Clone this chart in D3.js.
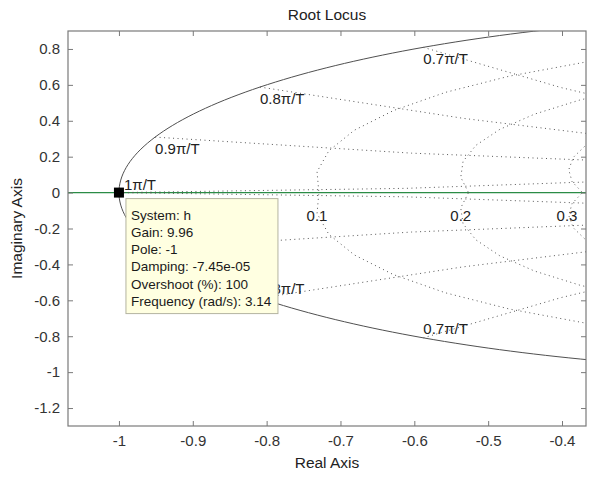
<!DOCTYPE html>
<html><head><meta charset="utf-8">
<script src="https://cdn.jsdelivr.net/npm/d3@7"></script>
<style>body{margin:0;background:#fff}svg{display:block;font-family:Arial,"Liberation Sans",sans-serif}</style>
</head><body><svg id="c" width="596" height="480"></svg>
<script>
// ---- data ----
const chartTitle = "Root Locus";
const xLabel = "Real Axis";
const yLabel = "Imaginary Axis";
const xTicks = [-1, -0.9, -0.8, -0.7, -0.6, -0.5, -0.4];
const yTicks = [-1.2, -1, -0.8, -0.6, -0.4, -0.2, 0, 0.2, 0.4, 0.6, 0.8];
const xLimits = [-1.069, -0.3675];
const yLimits = [-1.3, 0.9];
// zgrid: damping ratios and natural frequencies (in units of pi/T)
const dampingRatios = [0.1, 0.2, 0.3, 0.4, 0.5, 0.6, 0.7, 0.8, 0.9];
const naturalFreqs = [0.1, 0.2, 0.3, 0.4, 0.5, 0.6, 0.7, 0.8, 0.9, 1.0];
const naturalFreqLabels = ["0.1\u03C0/T","0.2\u03C0/T","0.3\u03C0/T","0.4\u03C0/T","0.5\u03C0/T","0.6\u03C0/T","0.7\u03C0/T","0.8\u03C0/T","0.9\u03C0/T","1\u03C0/T"];
const dampingLabels = ["0.1","0.2","0.3","0.4","0.5","0.6","0.7","0.8","0.9"];
// root locus: unit-circle branch and real-axis branch
const locusCircleRadius = 1;
const selectedPole = {re: -1, im: 0};
const datatipLines = ["System: h", "Gain: 9.96", "Pole: -1", "Damping: -7.45e-05", "Overshoot (%): 100", "Frequency (rad/s): 3.14"];

// ---- layout ----
const svg = d3.select("#c");
const L = 68, T = 31, R = 586, B = 426;
const x = d3.scaleLinear().domain(xLimits).range([L, R]);
const y = d3.scaleLinear().domain(yLimits).range([B, T]);
const line = d3.line().x(d => x(d[0])).y(d => y(d[1]));

svg.append("defs").append("clipPath").attr("id", "clip")
  .append("rect").attr("x", L).attr("y", T).attr("width", R - L).attr("height", B - T);
const plot = svg.append("g").attr("clip-path", "url(#clip)");

function cexp(re, im) { const r = Math.exp(re); return [r * Math.cos(im), r * Math.sin(im)]; }

// real-axis locus branch (green)
plot.append("path").datum([[xLimits[0], 0], [xLimits[1], 0]])
  .attr("d", line).attr("fill", "none").attr("stroke", "#2b8c46").attr("stroke-width", 1.2);

// zgrid damping lines (theta 0..pi in pi/20 steps)
const thetaSteps = d3.range(0, 21).map(k => k * Math.PI / 20);
const gridG = plot.append("g").attr("fill", "none").attr("stroke", "#555")
  .attr("stroke-width", 1).attr("stroke-dasharray", "1,3.5");
dampingRatios.forEach(z => {
  const m = Math.tan(Math.asin(z));
  const pts = thetaSteps.map(t => cexp(-m * t, t));
  gridG.append("path").datum(pts).attr("d", line);
  gridG.append("path").datum(pts.map(p => [p[0], -p[1]])).attr("d", line);
});
// zgrid natural frequency lines (angle pi/2..pi in pi/20 steps)
const angSteps = d3.range(10, 21).map(k => k * Math.PI / 20);
naturalFreqs.forEach(w => {
  const wn = w * Math.PI;
  const pts = angSteps.map(a => cexp(wn * Math.cos(a), wn * Math.sin(a)));
  gridG.append("path").datum(pts).attr("d", line);
  gridG.append("path").datum(pts.map(p => [p[0], -p[1]])).attr("d", line);
});

// unit-circle locus branch (solid)
const circ = d3.range(0, 361).map(k => {
  const a = k * Math.PI / 180; return [locusCircleRadius * Math.cos(a), locusCircleRadius * Math.sin(a)];
});
plot.append("path").datum(circ).attr("d", line).attr("fill", "none")
  .attr("stroke", "#505050").attr("stroke-width", 1);

// datatip geometry (needed to skip labels it hides entirely)
const tipX = x(selectedPole.re) + 7, tipY = y(selectedPole.im) + 6, tipW = 152, tipH = 115;
const fullyHidden = (px, py, w) => px > tipX && px + w < tipX + tipW && py - 12 > tipY && py < tipY + tipH;

// labels of grid
const labG = svg.append("g").attr("font-size", 15).attr("fill", "#222");
naturalFreqs.forEach((w, i) => {
  const p = [Math.cos(w * Math.PI), Math.sin(w * Math.PI)];
  if (p[0] < xLimits[0] || p[0] > xLimits[1]) return;
  if (w === 1) {
    labG.append("text").attr("x", x(p[0]) + 5).attr("y", y(0) - 3).text(naturalFreqLabels[i]);
    return;
  }
  labG.append("text").attr("x", x(p[0])).attr("y", y(p[1]) + 17).text(naturalFreqLabels[i]);
  const bx = x(p[0]), by = y(-p[1]) - 4;
  if (!fullyHidden(bx, by, 45)) labG.append("text").attr("x", bx).attr("y", by).text(naturalFreqLabels[i]);
});
dampingRatios.forEach((z, i) => {
  const m = Math.tan(Math.asin(z));
  const p = cexp(-m * thetaSteps[19], thetaSteps[19]);
  if (p[0] < xLimits[0] || p[0] > xLimits[1] - 0.01) return;
  labG.append("text").attr("x", Math.min(x(p[0]), R - 19)).attr("y", y(0) + 28)
    .attr("text-anchor", "middle").text(dampingLabels[i]);
});

// selected pole marker
svg.append("rect").attr("x", x(selectedPole.re) - 5).attr("y", y(selectedPole.im) - 5)
  .attr("width", 10).attr("height", 10).attr("fill", "#000");

// datatip
const tip = svg.append("g");
tip.append("rect").attr("x", tipX).attr("y", tipY).attr("width", tipW).attr("height", tipH)
  .attr("fill", "#ffffe1").attr("stroke", "#b4b4a0").attr("stroke-width", 1);
tip.selectAll("text").data(datatipLines).join("text")
  .attr("x", tipX + 5).attr("y", (d, i) => tipY + 21 + i * 17.3)
  .attr("font-size", 13.5).attr("fill", "#1a1a1a").text(d => d);

// axes box and ticks
const axC = "#7a7a7a";
svg.append("rect").attr("x", L).attr("y", T).attr("width", R - L).attr("height", B - T)
  .attr("fill", "none").attr("stroke", axC).attr("stroke-width", 1.2);
const tickLen = 5;
const fmt = d => String(+(+d).toFixed(1));
const gB = svg.append("g").attr("transform", `translate(0,${B})`)
  .call(d3.axisBottom(x).tickValues(xTicks).tickSizeInner(-tickLen).tickSizeOuter(0).tickPadding(9).tickFormat(fmt));
const gT = svg.append("g").attr("transform", `translate(0,${T})`)
  .call(d3.axisTop(x).tickValues(xTicks).tickSizeInner(-tickLen).tickSizeOuter(0).tickFormat(""));
const gL = svg.append("g").attr("transform", `translate(${L},0)`)
  .call(d3.axisLeft(y).tickValues(yTicks).tickSizeInner(-tickLen).tickSizeOuter(0).tickPadding(8).tickFormat(fmt));
const gR = svg.append("g").attr("transform", `translate(${R},0)`)
  .call(d3.axisRight(y).tickValues(yTicks).tickSizeInner(-tickLen).tickSizeOuter(0).tickFormat(""));
[gB, gT, gL, gR].forEach(g => {
  g.select(".domain").remove();
  g.selectAll("line").attr("stroke", axC);
  g.selectAll("text").attr("font-size", 15).attr("fill", "#333").attr("font-family", "Arial, 'Liberation Sans', sans-serif");
});

// titles
svg.append("text").attr("x", (L + R) / 2).attr("y", 20).attr("text-anchor", "middle")
  .attr("font-size", 15.5).attr("fill", "#222").text(chartTitle);
svg.append("text").attr("x", (L + R) / 2).attr("y", 468).attr("text-anchor", "middle")
  .attr("font-size", 15.5).attr("fill", "#222").text(xLabel);
svg.append("text").attr("transform", `translate(22,${(T + B) / 2}) rotate(-90)`).attr("text-anchor", "middle")
  .attr("font-size", 15.5).attr("fill", "#222").text(yLabel);
</script></body></html>
